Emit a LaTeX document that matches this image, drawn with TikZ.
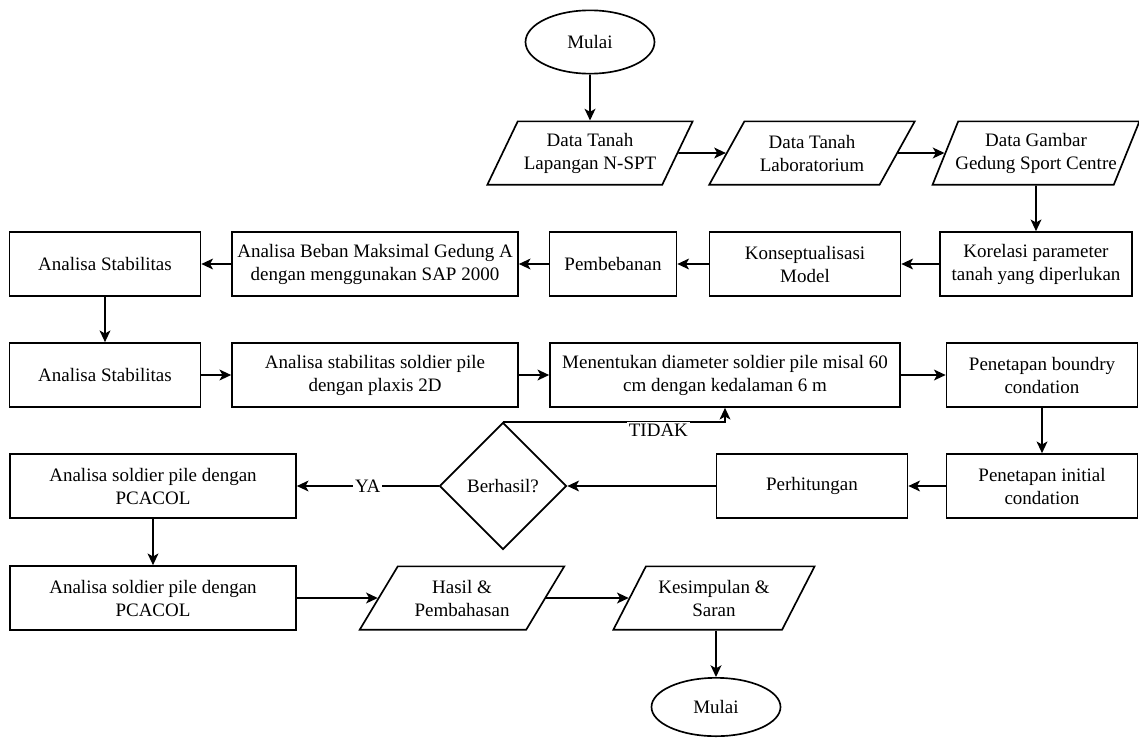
\documentclass[tikz,border=0pt]{standalone}
\usepackage{fontspec}
\setmainfont{Liberation Serif}
\newfontfamily\timesfont{Liberation Serif}
\usetikzlibrary{arrows.meta,positioning,shapes.geometric}

\begin{document}
\begin{tikzpicture}[
    x=0.6pt, y=-0.6pt,
    font=\timesfont\fontsize{11.4}{13.8}\selectfont,
    process/.style={draw, line width=1pt, minimum height=38.4pt,
      align=center, inner sep=2pt},
    io/.style={draw, line width=1pt, trapezium, trapezium left angle=63,
      trapezium right angle=117, trapezium stretches=true,
      minimum width=124.2pt, minimum height=38pt, align=center,
      inner xsep=-8pt, inner ysep=1pt},
    terminal/.style={draw, line width=1pt, ellipse,
      minimum width=77.4pt, minimum height=38pt},
    decision/.style={draw, line width=1pt, diamond,
      minimum width=76.2pt, minimum height=76.2pt, inner sep=0pt},
    arr/.style={-{Stealth[length=7pt, width=6.5pt, inset=1.8pt]}, line width=1pt},
    lbl/.style={fill=white, inner sep=1pt}
  ]
    \useasboundingbox (0,0) rectangle (1139,738);
    % baris 1
    \node[terminal] (mulai) at (590,42) {Mulai};
    \node[io] (tanah) at (590,153) {Data Tanah\\Lapangan N-SPT};
    \node[io] (lab) at (812,153) {Data Tanah\\Laboratorium};
    \node[io] (gambar) at (1036,153) {Data Gambar\\Gedung Sport Centre};
    % baris 2
    \node[process, minimum width=115.2pt] (korelasi) at (1036,264) {Korelasi parameter\\tanah yang diperlukan};
    \node[process, minimum width=114.6pt] (konsep) at (805,264) {Konseptualisasi\\Model};
    \node[process, minimum width=76.2pt] (beban) at (613,264) {Pembebanan};
    \node[process, minimum width=171.6pt] (sap) at (375,264) {Analisa Beban Maksimal Gedung A\\dengan menggunakan SAP 2000};
    \node[process, minimum width=114.6pt] (stab1) at (105,264) {Analisa Stabilitas};
    % baris 3
    \node[process, minimum width=114.6pt] (stab2) at (105,375) {Analisa Stabilitas};
    \node[process, minimum width=171.6pt] (plaxis) at (375,375) {Analisa stabilitas soldier pile\\dengan plaxis 2D};
    \node[process, minimum width=210pt] (diameter) at (725,375) {Menentukan diameter soldier pile misal 60\\cm dengan kedalaman 6 m};
    \node[process, minimum width=114.6pt] (boundry) at (1042,375) {Penetapan boundry\\condation};
    % baris 4
    \node[process, minimum width=114.6pt] (initial) at (1042,486) {Penetapan initial\\condation};
    \node[process, minimum width=114.6pt] (hitung) at (812,486) {Perhitungan};
    \node[decision] (berhasil) at (503,486) {Berhasil?};
    \node[process, minimum width=171.6pt] (pcacol1) at (153,486) {Analisa soldier pile dengan\\PCACOL};
    % baris 5
    \node[process, minimum width=171.6pt] (pcacol2) at (153,598) {Analisa soldier pile dengan\\PCACOL};
    \node[io, minimum width=123pt] (hasil) at (462,598) {Hasil \&\\Pembahasan};
    \node[io, minimum width=121pt] (simpulan) at (714,598) {Kesimpulan \&\\Saran};
    \node[terminal, minimum height=35pt] (selesai) at (716,707) {Mulai};

    \draw[arr] (mulai) -- (tanah);
    \draw[arr] (tanah) -- (lab);
    \draw[arr] (lab) -- (gambar);
    \draw[arr] (gambar) -- (korelasi);
    \draw[arr] (korelasi) -- (konsep);
    \draw[arr] (konsep) -- (beban);
    \draw[arr] (beban) -- (sap);
    \draw[arr] (sap) -- (stab1);
    \draw[arr] (stab1) -- (stab2);
    \draw[arr] (stab2) -- (plaxis);
    \draw[arr] (plaxis) -- (diameter);
    \draw[arr] (diameter) -- (boundry);
    \draw[arr] (boundry) -- (initial);
    \draw[arr] (initial) -- (hitung);
    \draw[arr] (hitung) -- (berhasil);
    \draw[arr] (berhasil) -- node[lbl]{YA} (pcacol1);
    \draw[arr] (berhasil.north) -| node[lbl, pos=0.35, yshift=-5pt]{TIDAK} (diameter.south);
    \draw[arr] (pcacol1) -- (pcacol2);
    \draw[arr] (pcacol2) -- (hasil);
    \draw[arr] (hasil) -- (simpulan);
    \draw[arr] (simpulan.south -| selesai.north) -- (selesai);
  \end{tikzpicture}
\end{document}
